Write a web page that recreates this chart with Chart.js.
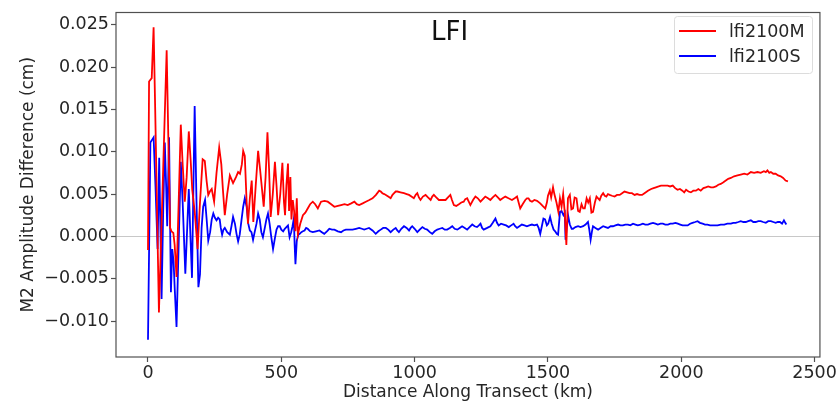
<!DOCTYPE html>
<html>
<head>
<meta charset="utf-8">
<script src="https://cdn.jsdelivr.net/npm/chart.js@4.4.1/dist/chart.umd.min.js"></script>
<style>
  body { margin: 0; background: #fff; }
  #chart { display: block; }
</style>
</head>
<body>
<canvas id="chart" width="838" height="405"></canvas>
<script>
// data: distance (km) and M2 amplitude difference (cm)
var distM = [0, 4, 14, 21, 27, 41, 70, 76, 83, 88, 95, 100, 107, 115, 123, 130, 138, 145, 153, 160,
  166, 175, 186, 195, 205, 213, 220, 226, 232, 239, 248, 257, 267, 275, 281, 288, 297, 307, 319, 330,
  338, 345, 352, 357, 363, 370, 375, 382, 389, 395, 404, 413, 420, 425, 434, 441, 448, 454, 460, 468,
  476, 482, 488, 496, 504, 510, 514, 519, 525, 529, 534, 538, 543, 548, 553, 558, 562, 571, 581, 590,
  599, 608, 618, 627, 637, 649, 662, 674, 687, 699, 712, 724, 737, 749, 762, 774, 783, 792, 805, 817,
  830, 842, 855, 867, 873, 879, 886, 892, 901, 910, 917, 923, 929, 935, 947, 960, 970, 979, 988, 997,
  1004, 1010, 1016, 1022, 1031, 1041, 1050, 1060, 1066, 1072, 1081, 1091, 1103, 1116, 1125, 1134, 1140, 1147, 1156, 1166,
  1175, 1184, 1190, 1197, 1203, 1209, 1219, 1228, 1237, 1247, 1256, 1265, 1275, 1284, 1293, 1303, 1312, 1321, 1330, 1340,
  1352, 1365, 1375, 1384, 1390, 1396, 1405, 1415, 1421, 1427, 1433, 1440, 1449, 1459, 1471, 1480, 1490, 1496, 1500, 1507,
  1512, 1519, 1524, 1532, 1539, 1545, 1551, 1557, 1563, 1569, 1575, 1582, 1588, 1594, 1600, 1607, 1613, 1619, 1626, 1632,
  1638, 1645, 1651, 1657, 1663, 1669, 1676, 1682, 1688, 1694, 1700, 1707, 1713, 1719, 1725, 1731, 1740, 1750, 1759, 1769,
  1778, 1787, 1797, 1806, 1815, 1825, 1834, 1843, 1853, 1862, 1875, 1887, 1896, 1905, 1915, 1924, 1936, 1949, 1958, 1968,
  1977, 1986, 1995, 2004, 2011, 2018, 2027, 2036, 2045, 2055, 2064, 2073, 2083, 2092, 2101, 2111, 2120, 2130, 2139, 2148,
  2158, 2167, 2176, 2186, 2198, 2211, 2223, 2236, 2248, 2261, 2273, 2286, 2298, 2310, 2317, 2323, 2330, 2336, 2345, 2354,
  2363, 2373, 2382, 2391, 2400];
var ampM = [-0.0016, 0.0183, 0.0187, 0.0247, 0.0150, -0.0090, 0.0220, 0.0120, 0.0010, 0.0006, 0.0004, -0.0010, -0.0048, 0.0040, 0.0132, 0.0085, 0.0041, 0.0070, 0.0124, 0.0090,
  0.0055, 0.0030, -0.0015, 0.0040, 0.0091, 0.0089, 0.0065, 0.0049, 0.0053, 0.0056, 0.0041, 0.0075, 0.0105, 0.0085, 0.0055, 0.0025, 0.0050, 0.0072, 0.0063, 0.0070,
  0.0076, 0.0074, 0.0085, 0.0101, 0.0095, 0.0040, 0.0015, 0.0045, 0.0066, 0.0017, 0.0060, 0.0101, 0.0080, 0.0064, 0.0035, 0.0070, 0.0123, 0.0080, 0.0023, 0.0050,
  0.0088, 0.0060, 0.0025, 0.0050, 0.0087, 0.0040, 0.0025, 0.0060, 0.0086, 0.0030, 0.0070, 0.0020, 0.0043, 0.0030, 0.0006, 0.0045, 0.0002, 0.0015, 0.0025, 0.0028,
  0.0033, 0.0038, 0.0041, 0.0038, 0.0033, 0.0041, 0.0042, 0.0041, 0.0038, 0.0035, 0.0036, 0.0037, 0.0038, 0.0037, 0.0039, 0.0041, 0.0038, 0.0037, 0.0039, 0.0041,
  0.0043, 0.0045, 0.0049, 0.0054, 0.0053, 0.0051, 0.0050, 0.0049, 0.0047, 0.0045, 0.0049, 0.0051, 0.0053, 0.0053, 0.0052, 0.0051, 0.0050, 0.0049, 0.0047, 0.0045,
  0.0049, 0.0051, 0.0046, 0.0043, 0.0047, 0.0049, 0.0046, 0.0043, 0.0047, 0.0049, 0.0046, 0.0043, 0.0043, 0.0043, 0.0046, 0.0049, 0.0043, 0.0037, 0.0036, 0.0038,
  0.0040, 0.0041, 0.0044, 0.0045, 0.0041, 0.0037, 0.0043, 0.0047, 0.0045, 0.0041, 0.0044, 0.0047, 0.0045, 0.0043, 0.0046, 0.0049, 0.0046, 0.0043, 0.0045, 0.0047,
  0.0045, 0.0043, 0.0045, 0.0047, 0.0040, 0.0033, 0.0038, 0.0043, 0.0045, 0.0045, 0.0042, 0.0041, 0.0043, 0.0042, 0.0039, 0.0036, 0.0033, 0.0040, 0.0048, 0.0054,
  0.0046, 0.0058, 0.0050, 0.0040, 0.0029, 0.0045, 0.0035, 0.0050, 0.0028, -0.0010, 0.0045, 0.0049, 0.0032, 0.0033, 0.0046, 0.0045, 0.0030, 0.0029, 0.0038, 0.0033,
  0.0033, 0.0045, 0.0040, 0.0045, 0.0028, 0.0029, 0.0040, 0.0047, 0.0045, 0.0043, 0.0048, 0.0051, 0.0048, 0.0047, 0.0050, 0.0049, 0.0048, 0.0047, 0.0049, 0.0049,
  0.0051, 0.0053, 0.0052, 0.0051, 0.0051, 0.0049, 0.0050, 0.0049, 0.0049, 0.0051, 0.0054, 0.0056, 0.0057, 0.0058, 0.0059, 0.0060, 0.0060, 0.0060, 0.0059, 0.0060,
  0.0057, 0.0055, 0.0056, 0.0054, 0.0052, 0.0055, 0.0053, 0.0052, 0.0054, 0.0054, 0.0056, 0.0054, 0.0057, 0.0058, 0.0059, 0.0058, 0.0058, 0.0059, 0.0061, 0.0062,
  0.0064, 0.0066, 0.0068, 0.0069, 0.0071, 0.0072, 0.0073, 0.0074, 0.0073, 0.0076, 0.0075, 0.0076, 0.0075, 0.0077, 0.0076, 0.0078, 0.0075, 0.0076, 0.0074, 0.0074,
  0.0072, 0.0071, 0.0069, 0.0066, 0.0065];

var distS = [0, 9, 15, 21, 28, 36, 42, 46, 51, 57, 63, 68, 72, 79, 86, 91, 96, 100, 107, 115,
  123, 130, 140, 147, 153, 158, 165, 175, 182, 189, 195, 201, 207, 214, 220, 226, 233, 239, 245, 251,
  257, 263, 269, 273, 278, 283, 288, 297, 307, 313, 319, 326, 332, 338, 344, 351, 357, 363, 370, 376,
  382, 388, 394, 400, 407, 413, 419, 425, 431, 438, 444, 450, 456, 462, 469, 476, 482, 488, 494, 500,
  507, 513, 519, 525, 531, 537, 542, 547, 550, 553, 558, 564, 569, 575, 581, 587, 593, 599, 608, 618,
  630, 643, 652, 661, 671, 680, 690, 699, 712, 724, 733, 742, 755, 767, 780, 792, 802, 811, 820, 829,
  842, 854, 864, 873, 882, 892, 901, 910, 920, 929, 935, 941, 950, 960, 970, 979, 985, 991, 1000, 1010,
  1019, 1029, 1038, 1047, 1057, 1066, 1075, 1085, 1094, 1104, 1113, 1122, 1132, 1141, 1150, 1160, 1169, 1178, 1188, 1197,
  1206, 1216, 1225, 1234, 1241, 1247, 1253, 1259, 1272, 1284, 1293, 1303, 1309, 1315, 1324, 1334, 1343, 1353, 1362, 1371,
  1377, 1384, 1393, 1402, 1412, 1421, 1430, 1440, 1449, 1459, 1465, 1471, 1477, 1483, 1489, 1496, 1501, 1508, 1514, 1521,
  1527, 1533, 1538, 1545, 1551, 1558, 1563, 1566, 1570, 1576, 1582, 1589, 1594, 1603, 1613, 1622, 1632, 1641, 1650, 1655,
  1660, 1665, 1669, 1678, 1688, 1697, 1707, 1716, 1725, 1735, 1744, 1753, 1763, 1772, 1781, 1790, 1800, 1809, 1819, 1828,
  1837, 1847, 1856, 1865, 1875, 1884, 1894, 1903, 1912, 1922, 1931, 1940, 1950, 1959, 1968, 1978, 1987, 1996, 2005, 2015,
  2024, 2033, 2042, 2052, 2061, 2070, 2080, 2089, 2098, 2108, 2117, 2127, 2136, 2148, 2161, 2173, 2186, 2195, 2204, 2214,
  2223, 2233, 2242, 2251, 2261, 2270, 2279, 2289, 2298, 2307, 2317, 2326, 2336, 2345, 2354, 2362, 2370, 2378, 2385, 2390,
  2394];
var ampS = [-0.0122, 0.0111, 0.0114, 0.0117, 0.0060, -0.0015, 0.0093, 0.0020, -0.0074, 0.0030, 0.0111, 0.0060, 0.0012, 0.0117, -0.0066, -0.0015, -0.0030, -0.0060, -0.0107, -0.0010,
  0.0088, 0.0040, -0.0044, 0.0010, 0.0056, 0.0010, -0.0049, 0.0154, 0.0040, -0.0060, -0.0045, 0.0010, 0.0035, 0.0043, 0.0020, -0.0005, 0.0005, 0.0020, 0.0027, 0.0022,
  0.0019, 0.0022, 0.0020, 0.0010, 0.0002, 0.0008, 0.0010, 0.0005, 0.0002, 0.0012, 0.0023, 0.0015, 0.0003, -0.0006, 0.0002, 0.0020, 0.0035, 0.0045, 0.0035, 0.0015,
  0.0007, 0.0005, -0.0004, 0.0005, 0.0015, 0.0027, 0.0020, 0.0005, -0.0001, 0.0010, 0.0020, 0.0027, 0.0015, 0.0000, -0.0015, -0.0002, 0.0008, 0.0012, 0.0012, 0.0008,
  0.0006, 0.0009, 0.0011, 0.0013, -0.0001, 0.0005, 0.0012, 0.0021, -0.0010, -0.0033, -0.0005, 0.0002, 0.0003, 0.0005, 0.0006, 0.0007, 0.0010, 0.0009, 0.0006, 0.0005,
  0.0006, 0.0007, 0.0005, 0.0003, 0.0006, 0.0009, 0.0008, 0.0008, 0.0006, 0.0005, 0.0007, 0.0008, 0.0008, 0.0008, 0.0009, 0.0010, 0.0009, 0.0008, 0.0009, 0.0010,
  0.0007, 0.0003, 0.0006, 0.0008, 0.0010, 0.0010, 0.0008, 0.0005, 0.0008, 0.0010, 0.0007, 0.0005, 0.0009, 0.0012, 0.0010, 0.0007, 0.0010, 0.0012, 0.0009, 0.0005,
  0.0008, 0.0011, 0.0009, 0.0008, 0.0005, 0.0003, 0.0006, 0.0008, 0.0009, 0.0010, 0.0008, 0.0008, 0.0010, 0.0012, 0.0009, 0.0008, 0.0010, 0.0012, 0.0010, 0.0008,
  0.0011, 0.0014, 0.0012, 0.0011, 0.0013, 0.0015, 0.0010, 0.0008, 0.0010, 0.0012, 0.0016, 0.0021, 0.0016, 0.0013, 0.0015, 0.0014, 0.0013, 0.0011, 0.0013, 0.0015,
  0.0012, 0.0010, 0.0012, 0.0014, 0.0013, 0.0012, 0.0013, 0.0014, 0.0013, 0.0014, 0.0010, 0.0003, 0.0012, 0.0021, 0.0020, 0.0013, 0.0015, 0.0023, 0.0015, 0.0008,
  0.0006, 0.0003, 0.0002, 0.0029, 0.0030, 0.0025, 0.0028, -0.0004, 0.0010, 0.0024, 0.0014, 0.0009, 0.0009, 0.0011, 0.0012, 0.0011, 0.0012, 0.0014, 0.0017, 0.0008,
  -0.0004, 0.0006, 0.0012, 0.0010, 0.0008, 0.0010, 0.0012, 0.0011, 0.0010, 0.0012, 0.0012, 0.0013, 0.0014, 0.0013, 0.0013, 0.0014, 0.0014, 0.0013, 0.0015, 0.0014,
  0.0013, 0.0014, 0.0015, 0.0014, 0.0014, 0.0015, 0.0016, 0.0015, 0.0014, 0.0015, 0.0015, 0.0014, 0.0014, 0.0015, 0.0015, 0.0016, 0.0015, 0.0014, 0.0013, 0.0013,
  0.0013, 0.0015, 0.0016, 0.0017, 0.0018, 0.0016, 0.0015, 0.0014, 0.0014, 0.0013, 0.0013, 0.0013, 0.0013, 0.0014, 0.0014, 0.0015, 0.0015, 0.0016, 0.0016, 0.0017,
  0.0018, 0.0017, 0.0017, 0.0018, 0.0019, 0.0017, 0.0017, 0.0018, 0.0018, 0.0017, 0.0016, 0.0018, 0.0018, 0.0017, 0.0016, 0.0017, 0.0017, 0.0015, 0.0019, 0.0016,
  0.0014];

var seriesNames = ['lfi2100M', 'lfi2100S'];
var xTicks = [0, 500, 1000, 1500, 2000, 2500];
var yTicks = [-0.010, -0.005, 0, 0.005, 0.010, 0.015, 0.020, 0.025];

function pts(xs, ys) {
    return xs.map(function (x, i) { return { x: x, y: ys[i] }; });
}

var txt = '#262626';
var axisCol = '#505050';
var FONT = 'DejaVu Sans';

// frame, zero line, title and the legend box inside the axes
var decor = {
    id: 'decor',
    beforeDatasetsDraw: function (chart) {
        var c = chart.ctx, a = chart.chartArea;
        var y0 = Math.round(chart.scales.y.getPixelForValue(0)) + 0.5;
        c.save();
        c.strokeStyle = '#c8c8c8';
        c.lineWidth = 1;
        c.beginPath();
        c.moveTo(a.left, y0);
        c.lineTo(a.right, y0);
        c.stroke();
        c.restore();
    },
    afterDraw: function (chart) {
        var c = chart.ctx, a = chart.chartArea;
        c.save();
        c.strokeStyle = axisCol;
        c.lineWidth = 1.2;
        c.strokeRect(a.left, a.top, a.right - a.left, a.bottom - a.top);

        // title
        c.fillStyle = '#111';
        c.font = '26px "' + FONT + '"';
        c.textAlign = 'center';
        c.textBaseline = 'middle';
        c.fillText('LFI', a.left + (a.right - a.left) * 0.474, 33);

        // legend
        var bx = 674, by = 16, bw = 138, bh = 57;
        c.fillStyle = 'rgba(255,255,255,0.85)';
        c.strokeStyle = '#dcdcdc';
        c.lineWidth = 1;
        c.beginPath();
        c.roundRect(bx + 0.5, by + 0.5, bw, bh, 3);
        c.fill();
        c.stroke();
        c.font = '17.5px "' + FONT + '"';
        c.textAlign = 'left';
        chart.data.datasets.forEach(function (ds, i) {
            var ly = 31 + i * 25;
            c.strokeStyle = ds.borderColor;
            c.lineWidth = 1.8;
            c.beginPath();
            c.moveTo(679, ly);
            c.lineTo(716, ly);
            c.stroke();
            c.fillStyle = txt;
            c.fillText(ds.label, 729, ly + 1);
        });
        c.restore();
    }
};

var ctx = document.getElementById('chart').getContext('2d');
var myChart = new Chart(ctx, {
    type: 'line',
    data: {
        datasets: [{
            label: seriesNames[0],
            data: pts(distM, ampM),
            borderColor: '#ff0000',
            borderWidth: 1.8,
            pointRadius: 0,
            tension: 0,
            fill: false
        }, {
            label: seriesNames[1],
            data: pts(distS, ampS),
            borderColor: '#0000ff',
            borderWidth: 1.8,
            pointRadius: 0,
            tension: 0,
            fill: false
        }]
    },
    options: {
        responsive: false,
        animation: false,
        layout: { padding: { top: 8, right: 17, left: 0, bottom: 0 } },
        plugins: {
            legend: { display: false },
            tooltip: { enabled: false }
        },
        scales: {
            x: {
                type: 'linear',
                min: -120,
                max: 2520,
                afterBuildTicks: function (s) { s.ticks = xTicks.map(function (v) { return { value: v }; }); },
                afterFit: function (s) { s.height = 48; },
                grid: { drawOnChartArea: false, drawTicks: true, tickLength: 5, tickColor: axisCol, tickWidth: 1.2 },
                border: { display: false },
                ticks: {
                    font: { family: FONT, size: 17.5 },
                    color: txt,
                    padding: 1,
                    maxRotation: 0,
                    autoSkip: false,
                    callback: function (v) { return String(v); }
                },
                title: {
                    display: true,
                    text: 'Distance Along Transect (km)',
                    font: { family: FONT, size: 17 },
                    color: txt,
                    padding: { top: 0, bottom: 2 }
                }
            },
            y: {
                min: -0.01425,
                max: 0.02645,
                afterBuildTicks: function (s) { s.ticks = yTicks.map(function (v) { return { value: v }; }); },
                afterFit: function (s) { s.width = 116; },
                grid: { drawOnChartArea: false, drawTicks: true, tickLength: 5, tickColor: axisCol, tickWidth: 1.2 },
                border: { display: false },
                ticks: {
                    font: { family: FONT, size: 17.5 },
                    color: txt,
                    padding: 2,
                    autoSkip: false,
                    callback: function (v) {
                        return (v < 0 ? '\u2212' : '') + Math.abs(v).toFixed(3);
                    }
                },
                title: {
                    display: true,
                    text: 'M2 Amplitude Difference (cm)',
                    font: { family: FONT, size: 17 },
                    color: txt,
                    padding: { top: 18, bottom: 0 }
                }
            }
        }
    },
    plugins: [decor]
});
</script>
</body>
</html>
